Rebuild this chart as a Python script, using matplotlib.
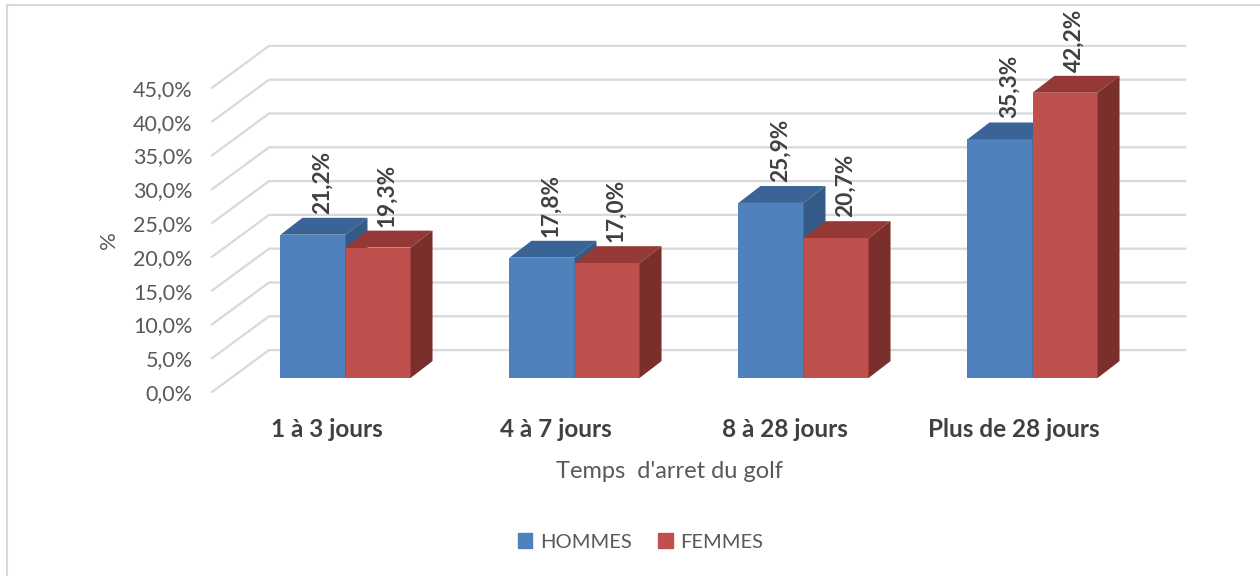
import matplotlib
matplotlib.use("Agg")
import matplotlib.pyplot as plt
from matplotlib.patches import Patch, Rectangle

plt.rcParams['font.family'] = ['Lato', 'DejaVu Sans']

categories = ["1 à 3 jours", "4 à 7 jours", "8 à 28 jours", "Plus de 28 jours"]
hommes = [21.2, 17.8, 25.9, 35.3]
femmes = [19.3, 17.0, 20.7, 42.2]
yticks = [0, 5, 10, 15, 20, 25, 30, 35, 40, 45]

# fake 3D: offsets in data units (x = category, y = percent)
back_dx, back_dy = 0.249, 6.2      # floor front -> back wall
bar_dx, bar_dy = 0.083, 2.07       # floor front -> bar front plane
depth_dx, depth_dy = 0.096, 2.5    # bar depth
bar_w = 0.284

colors = {
    "HOMMES": ("#4F81BD", "#3B6496", "#345A87"),
    "FEMMES": ("#C0504D", "#953936", "#7B2F2D"),
}
grid_c = "#D9D9D9"
text_c = "#595959"
label_c = "#404040"

fig = plt.figure(figsize=(12.6, 5.76), dpi=100)
ax = fig.add_axes([212 / 1260, 184 / 576, 916 / 1260, 304.2 / 576])
ax.set_xlim(-0.5, 3.5)
ax.set_ylim(0, 45)
for s in ax.spines.values():
    s.set_visible(False)

# gridlines: diagonal on the side wall then across the back wall
for v in yticks:
    ax.plot([-0.5, -0.5 + back_dx, 3.5 + back_dx], [v, v + back_dy, v + back_dy],
            color=grid_c, lw=1.6, clip_on=False, zorder=0)


def bar3d(x0, h, name):
    front, top, side = colors[name]
    x = x0 + bar_dx
    y = bar_dy
    ax.fill([x, x + bar_w, x + bar_w, x], [y, y, y + h, y + h],
            color=front, clip_on=False, zorder=2, lw=0)
    ax.fill([x, x + bar_w, x + bar_w + depth_dx, x + depth_dx],
            [y + h, y + h, y + h + depth_dy, y + h + depth_dy],
            color=top, clip_on=False, zorder=2, lw=0)
    ax.fill([x + bar_w, x + bar_w + depth_dx, x + bar_w + depth_dx, x + bar_w],
            [y, y + depth_dy, y + h + depth_dy, y + h],
            color=side, clip_on=False, zorder=2, lw=0)
    ax.text(x + bar_w / 2 + depth_dx / 2 - 0.008, y + h + depth_dy + 0.6,
            f"{h:.1f}%".replace(".", ","), rotation=90, ha="center", va="bottom",
            fontsize=16.3, fontweight="bold", color=label_c, zorder=3)


for i in range(len(categories)):
    bar3d(i - bar_w, hommes[i], "HOMMES")
    bar3d(i, femmes[i], "FEMMES")

ax.set_yticks(yticks)
ax.set_yticklabels([f"{v:.1f}%".replace(".", ",") for v in yticks],
                   fontsize=15.5, color=text_c)
ax.set_xticks(range(len(categories)))
ax.set_xticklabels(categories, fontsize=17.5, fontweight="bold", color=label_c)
ax.tick_params(axis="y", length=0, pad=14)
ax.tick_params(axis="x", length=0, pad=19)
ax.set_xlabel("Temps  d'arret du golf", fontsize=17, color=text_c, labelpad=14)
ax.set_ylabel("%", fontsize=16, color=text_c, labelpad=10)

handles = [Patch(color=colors[k][0], label=k) for k in colors]
fig.legend(handles=handles, loc="center", bbox_to_anchor=(641 / 1260, 1 - 542 / 576),
           ncol=2, frameon=False, fontsize=14.5, labelcolor=text_c,
           handlelength=0.7, handleheight=0.7, handletextpad=0.4, columnspacing=1.3)

# chart border (only left and top edges fall inside the picture)
fig.patches.append(Rectangle((7 / 1260, -0.1), 1.2, 1 - 5 / 576 + 0.1,
                             transform=fig.transFigure, fill=False,
                             edgecolor=grid_c, lw=1.5))

fig.savefig("out.png", dpi=100)
